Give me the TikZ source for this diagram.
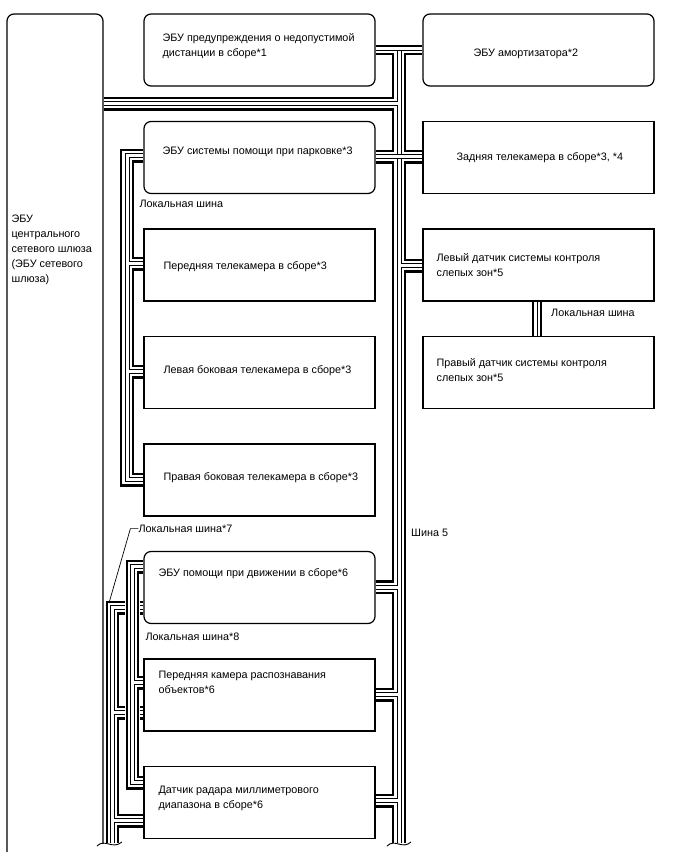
\documentclass[tikz,border=0pt]{standalone}
\usepackage{fontspec}
\setmainfont{Liberation Sans}
\usetikzlibrary{positioning,calc}

\tikzset{
  ecu/.style={draw, line width=1.2pt, rounded corners=7pt, minimum width=231pt, minimum height=72pt, inner sep=0pt},
  unit/.style={draw, line width=1.2pt, minimum width=231pt, minimum height=72pt, inner sep=0pt},
  lbl/.style={inner sep=0pt, align=left, anchor=west, font=\fontsize{10.8}{15}\selectfont},
  hi/.style={line width=2.6pt},
  lo/.style={line width=0.9pt},
}

\begin{document}
\begin{tikzpicture}[x=1pt, y=-1pt, node distance=34.3pt]
    \useasboundingbox (0,0) rectangle (688,852);

    % Units
    \node[ecu, minimum width=96pt, minimum height=886pt] (gw) at (55,457) {};
    \node[ecu] (dist) at (259.5,50) {};
    \node[ecu, right=46.8pt of dist] (shock) {};
    \node[ecu, below=of dist] (park) {};
    \node[unit, below=of shock] (rear) {};
    \node[unit, below=of park] (frontcam) {};
    \node[unit, below=of rear] (bsl) {};
    \node[unit, below=of frontcam] (leftcam) {};
    \node[unit, below=of bsl] (bsr) {};
    \node[unit, below=of leftcam] (rightcam) {};
    \node[ecu, below=of rightcam] (assist) {};
    \node[unit, below=of assist] (objcam) {};
    \node[unit, below=of objcam] (radar) {};

    % Texts
    \node[lbl] (tgw) at ($(gw.west |- 0,250)+(5,0)$) {ЭБУ\\центрального\\сетевого шлюза\\(ЭБУ сетевого\\шлюза)};
    \node[lbl] (tdist) at ($(dist.west)+(19,-3.5)$) {ЭБУ предупреждения о недопустимой\\дистанции в сборе*1};
    \node[lbl] (tshock) at ($(shock.west)+(51,3.5)$) {ЭБУ амортизатора*2};
    \node[lbl] (tpark) at ($(park.west)+(19,-5.5)$) {ЭБУ системы помощи при парковке*3};
    \node[lbl] (trear) at ($(rear.west)+(34,0)$) {Задняя телекамера в сборе*3, *4};
    \node[lbl] (tfront) at ($(frontcam.west)+(20,2)$) {Передняя телекамера в сборе*3};
    \node[lbl] (tbsl) at ($(bsl.west)+(14,0)$) {Левый датчик системы контроля\\слепых зон*5};
    \node[lbl] (tbsr) at ($(bsr.west)+(14,-2)$) {Правый датчик системы контроля\\слепых зон*5};
    \node[lbl] (tleft) at ($(leftcam.west)+(20,-1.5)$) {Левая боковая телекамера в сборе*3};
    \node[lbl] (tright) at ($(rightcam.west)+(20,-2)$) {Правая боковая телекамера в сборе*3};
    \node[lbl] (tassist) at ($(assist.west)+(15,-14)$) {ЭБУ помощи при движении в сборе*6};
    \node[lbl] (tobj) at ($(objcam.west)+(15,-13)$) {Передняя камера распознавания\\объектов*6};
    \node[lbl] (tradar) at ($(radar.west)+(15,-4.5)$) {Датчик радара миллиметрового\\диапазона в сборе*6};

    % Bus labels
    \node[lbl] (lpark) at ($(park.south west)+(-4,9.5)$) {Локальная шина};
    \node[lbl] (lbs) at ($(bsl.south)+(12.5,11)$) {Локальная шина};
    \node[lbl] (l7) at ($(rightcam.south west)+(-5,12)$) {Локальная шина*7};
    \node[lbl] (l8) at ($(assist.south west)+(2,12.5)$) {Локальная шина*8};
    \node[lbl] (lbus5) at (411,533) {Шина 5};
    \coordinate (b7tip) at (109,603);
    \draw[line width=0.7pt] (l7.west) -- ++(-8,0) -- (b7tip);

    % Local bus *7
    \draw[hi] (assist.west |- 0,602) -| (107,843);
    \draw[lo] (assist.west |- 0,605.8) -| (110.6,843);
    \foreach \na/\ya/\nb/\yb in {assist/609.6/objcam/710.8, objcam/714.6/radar/818.8}
      \draw[lo] (\na.west |- 0,\ya) -| (114.2,\yb) -- (\nb.west |- 0,\yb);
    \foreach \na/\ya/\nb/\yb in {assist/613.4/objcam/707, objcam/718.4/radar/815}
      \draw[hi] (\na.west |- 0,\ya) -| (117.8,\yb) -- (\nb.west |- 0,\yb);
    \draw[lo] (radar.west |- 0,822.6) -| (114.2,843);
    \draw[hi] (radar.west |- 0,826.2) -| (117.8,843);
    \fill[white] (124.6,562) rectangle (140.4,790);

    % Local bus *8
    \draw[hi] (assist.west |- 0,561) -| (127,788.4) -- (radar.west |- 0,788.4);
    \draw[lo] (assist.west |- 0,564.8) -| (130.6,784.6) -- (radar.west |- 0,784.6);
    \foreach \na/\ya/\nb/\yb in {assist/568.6/objcam/680.8, objcam/684.6/radar/780.8}
      \draw[lo] (\na.west |- 0,\ya) -| (134.2,\yb) -- (\nb.west |- 0,\yb);
    \foreach \na/\ya/\nb/\yb in {assist/572.4/objcam/677, objcam/688.4/radar/777}
      \draw[hi] (\na.west |- 0,\ya) -| (137.8,\yb) -- (\nb.west |- 0,\yb);

    % Parking local bus
    \draw[hi] (park.west |- 0,150) -| (121,485.4) -- (rightcam.west |- 0,485.4);
    \draw[lo] (park.west |- 0,153.8) -| (125,481.6) -- (rightcam.west |- 0,481.6);
    \foreach \na/\ya/\nb/\yb in {park/157.6/frontcam/261.8, frontcam/265.6/leftcam/369.8, leftcam/373.6/rightcam/477.8}
      \draw[lo] (\na.west |- 0,\ya) -| (129,\yb) -- (\nb.west |- 0,\yb);
    \foreach \na/\ya/\nb/\yb in {park/161.4/frontcam/258, frontcam/269.4/leftcam/366, leftcam/377.4/rightcam/474}
      \draw[hi] (\na.west |- 0,\ya) -| (133,\yb) -- (\nb.west |- 0,\yb);

    % Blind spot local bus
    \foreach \dx/\w in {-5.5/hi, -1.5/lo, 2.5/hi}
      \draw[\w] ($(bsl.south)+(\dx,0)$) -- ($(bsr.north)+(\dx,0)$);

    % Bus 5
    \draw[hi] (dist.east |- 0,46) -- (shock.west |- 0,46);
    \draw[lo] (dist.east |- 0,50) -- (shock.west |- 0,50);
    \foreach \na/\ya/\nb/\yb in {dist/54/gw/98, gw/109.4/park/151, park/162.4/assist/581.5, assist/592.9/objcam/689, objcam/700.4/radar/795}
      \draw[hi] (\na.east |- 0,\ya) -| (393,\yb) -- (\nb.east |- 0,\yb);
    \foreach \na/\ya/\nb/\yb in {dist/50/gw/101.8, gw/105.6/park/154.8, park/158.6/assist/585.3, assist/589.1/objcam/692.8, objcam/696.6/radar/798.6}
      \draw[lo] (\na.east |- 0,\ya) -| (397,\yb) -- (\nb.east |- 0,\yb);
    \draw[hi] (radar.east |- 0,806.4) -| (393,843);
    \draw[lo] (radar.east |- 0,802.6) -| (397,843);
    \foreach \na/\ya/\nb/\yb in {shock/54/rear/151, rear/162.4/bsl/260}
      \draw[hi] (\na.west |- 0,\ya) -| (405,\yb) -- (\nb.west |- 0,\yb);
    \foreach \na/\ya/\nb/\yb in {shock/50/rear/154.8, rear/158.6/bsl/263.8}
      \draw[lo] (\na.west |- 0,\ya) -| (401,\yb) -- (\nb.west |- 0,\yb);
    \draw[hi] (bsl.west |- 0,271.4) -| (405,843);
    \draw[lo] (bsl.west |- 0,267.6) -| (401,843);
    \foreach \y in {154.8,158.6}
      \draw[lo] (park.east |- 0,\y) -- (rear.west |- 0,\y);

    % Breaks
    \fill[white] (95,844) rectangle (124,852);
    \fill[white] (386,844) rectangle (412,852);
    \draw[lo] (97,846) .. controls (105,838) and (112,850) .. (122,842);
    \draw[lo] (387,846) .. controls (395,838) and (402,850) .. (411,842);
\end{tikzpicture}
\end{document}
